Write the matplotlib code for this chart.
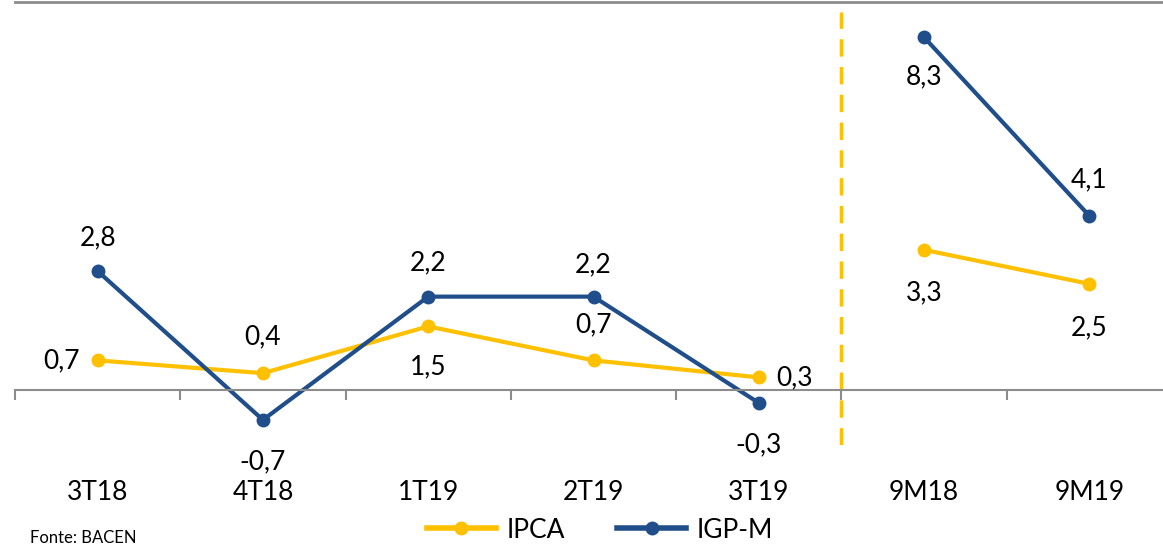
import numpy as np
import matplotlib.pyplot as plt
from matplotlib.transforms import blended_transform_factory

categories = ['3T18', '4T18', '1T19', '2T19', '3T19', '9M18', '9M19']
ipca = [0.7, 0.4, 1.5, 0.7, 0.3, 3.3, 2.5]
igpm = [2.8, -0.7, 2.2, 2.2, -0.3, 8.3, 4.1]

# label placement offsets in pixels (dx, dy)
ipca_offsets = [(-36, 0), (0, 36), (0, -40), (0, 36), (36, 0), (0, -43), (0, -44)]
igpm_offsets = [(0, 33), (0, -42), (0, 34), (0, 32), (0, -42), (0, -40), (0, 36)]

gold = '#FFC000'
blue = '#1F4E8A'

plt.rcParams['font.family'] = ['Lato', 'DejaVu Sans']

fig = plt.figure(figsize=(11.63, 5.48), dpi=100)
W, H = 1163, 548
left, right, top, bottom = 15, 1172, 2, 445
ax = fig.add_axes([left / W, 1 - bottom / H, (right - left) / W, (bottom - top) / H])

x = np.arange(len(categories))
ax.set_xlim(-0.5, len(categories) - 0.5)
ax.set_ylim(-1.29, 9.13)

# lines: quarters and 9-month accumulations drawn separately
for sl in (slice(0, 5), slice(5, 7)):
    ax.plot(x[sl], ipca[sl], '-o', color=gold, lw=3, ms=9, solid_capstyle='round')
    ax.plot(x[sl], igpm[sl], '-o', color=blue, lw=3, ms=9, solid_capstyle='round')

fmt = lambda v: f'{v:.1f}'.replace('.', ',')
for i in range(len(categories)):
    ax.annotate(fmt(ipca[i]), (x[i], ipca[i]), xytext=ipca_offsets[i], textcoords='offset pixels',
                ha='center', va='center', fontsize=19, color='black')
    ax.annotate(fmt(igpm[i]), (x[i], igpm[i]), xytext=igpm_offsets[i], textcoords='offset pixels',
                ha='center', va='center', fontsize=19, color='black')

# separator
ax.axvline(4.5, ymin=0.0, ymax=(bottom - 12) / (bottom - top), color=gold, lw=2.5,
           linestyle=(0, (5, 3)))

# spines
for s in ('left', 'right'):
    ax.spines[s].set_visible(False)
ax.spines['top'].set_color('#8C8C8C')
ax.spines['top'].set_linewidth(2)
ax.spines['bottom'].set_position(('data', 0))
ax.spines['bottom'].set_color('#8C8C8C')
ax.spines['bottom'].set_linewidth(1.5)
ax.set_yticks([])
ax.set_xticks(np.arange(-0.5, len(categories), 1))
ax.tick_params(axis='x', length=7, width=1.5, color='#8C8C8C', labelbottom=False)

trans = blended_transform_factory(ax.transData, fig.transFigure)
for i, c in enumerate(categories):
    ax.text(i, 1 - 493 / H, c, transform=trans, ha='center', va='center', fontsize=19)

# legend
h1, = ax.plot([], [], '-o', color=gold, lw=4, ms=9)
h2, = ax.plot([], [], '-o', color=blue, lw=4, ms=9)
fig.legend([h1, h2], ['IPCA', 'IGP-M'], loc='center', bbox_to_anchor=(600 / W, 1 - 530 / H),
           ncol=2, frameon=False, fontsize=19, handlelength=2.6, columnspacing=2.0,
           handletextpad=0.4, borderpad=0.1)

fig.text(30 / W, 1 - 538 / H, 'Fonte: BACEN', fontsize=12, ha='left', va='center')

fig.savefig('out.png', dpi=100)
